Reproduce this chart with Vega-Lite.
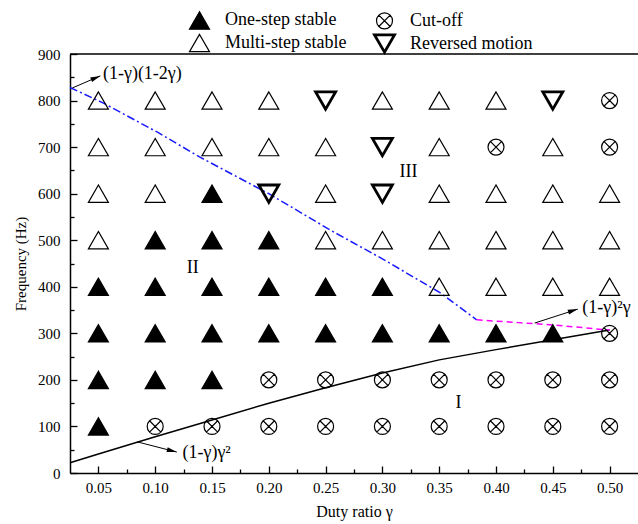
{
  "$schema": "https://vega.github.io/schema/vega-lite/v6.json",
  "width": 568,
  "height": 419,
  "autosize": {"type": "none"},
  "padding": {"left": 70, "top": 54, "right": 0, "bottom": 51},
  "background": "white",
  "config": {
    "view": {"stroke": null},
    "font": "Liberation Serif",
    "style": {"guide-label": {"font": "Liberation Serif"}, "guide-title": {"font": "Liberation Serif"}},
    "axis": {
      "domainColor": "black", "domainWidth": 1.5, "tickColor": "black", "tickWidth": 1.3,
      "labelFont": "Liberation Serif", "labelFontSize": 15, "labelColor": "black",
      "titleFont": "Liberation Serif", "titleFontSize": 16, "titleFontWeight": "normal", "titleColor": "black",
      "grid": false
    },
    "legend": {
      "title": null, "orient": "none", "legendX": 118, "legendY": -45, "columns": 2,
      "symbolSize": 400, "symbolStrokeColor": "black", "symbolStrokeWidth": 1.4,
      "labelFont": "Liberation Serif", "labelFontSize": 18, "labelColor": "black",
      "columnPadding": 21, "rowPadding": -4, "labelOffset": 14, "padding": 0
    }
  },
  "resolve": {"axis": {"x": "independent", "y": "independent"}},
  "layer": [
    {
      "data": {"values": [
        {"g": 0.025, "f": 22}, {"g": 0.05, "f": 41}, {"g": 0.1, "f": 78}, {"g": 0.15, "f": 114},
        {"g": 0.2, "f": 150}, {"g": 0.25, "f": 183}, {"g": 0.3, "f": 215}, {"g": 0.35, "f": 243},
        {"g": 0.4, "f": 265}, {"g": 0.45, "f": 286}, {"g": 0.5, "f": 307}
      ]},
      "mark": {"type": "line", "color": "black", "strokeWidth": 1.5},
      "encoding": {
        "x": {"field": "g", "type": "quantitative",
          "scale": {"domain": [0.025, 0.525], "nice": false, "zero": false},
          "axis": {
            "orient": "bottom",
            "title": "Duty ratio γ",
            "values": [0.05, 0.1, 0.15, 0.2, 0.25, 0.3, 0.35, 0.4, 0.45, 0.5],
            "format": ".2f",
            "tickSize": -7,
            "labelPadding": 14,
            "titlePadding": 8
          }
        },
        "y": {"field": "f", "type": "quantitative",
          "scale": {"domain": [0, 900], "nice": false},
          "axis": {
            "orient": "left",
            "title": "Frequency (Hz)",
            "titleFontSize": 15,
            "values": [0, 100, 200, 300, 400, 500, 600, 700, 800, 900],
            "tickSize": -7,
            "labelPadding": 17,
            "titlePadding": 9
          }
        }
      }
    },
    {
      "data": {"values": [
        {"g": 0.025, "f": 828}, {"g": 0.054, "f": 795}, {"g": 0.102, "f": 732}, {"g": 0.139, "f": 679},
        {"g": 0.2, "f": 600}, {"g": 0.254, "f": 522}, {"g": 0.3, "f": 460}, {"g": 0.351, "f": 387}, {"g": 0.383, "f": 329}
      ]},
      "mark": {"type": "line", "color": "#1a1aff", "strokeWidth": 1.5, "strokeDash": [8, 3, 2, 3]},
      "encoding": {"x": {"field": "g", "type": "quantitative", "axis": null}, "y": {"field": "f", "type": "quantitative", "axis": null}}
    },
    {
      "data": {"values": [
        {"g": 0.383, "f": 329}, {"g": 0.42, "f": 323}, {"g": 0.45, "f": 318}, {"g": 0.5, "f": 307}
      ]},
      "mark": {"type": "line", "color": "#ff00ff", "strokeWidth": 1.5, "strokeDash": [6, 4]},
      "encoding": {
        "x": {"field": "g", "type": "quantitative",
          "axis": {"orient": "bottom", "title": null, "labels": false, "domain": false, "tickSize": -4,
            "values": [0.075, 0.125, 0.175, 0.225, 0.275, 0.325, 0.375, 0.425, 0.475]}},
        "y": {"field": "f", "type": "quantitative",
          "axis": {"orient": "left", "title": null, "labels": false, "domain": false, "tickSize": -4,
            "values": [50, 150, 250, 350, 450, 550, 650, 750, 850]}}
      }
    },
    {
      "data": {"values": [{}]},
      "mark": {"type": "rule", "color": "black", "strokeWidth": 1.5},
      "encoding": {"y": {"datum": 900, "axis": null}}
    },
    {
      "data": {"values": [
        {"g": 0.05, "f": 800, "s": "Multi-step stable"}, {"g": 0.10, "f": 800, "s": "Multi-step stable"}, {"g": 0.15, "f": 800, "s": "Multi-step stable"}, {"g": 0.20, "f": 800, "s": "Multi-step stable"}, {"g": 0.25, "f": 800, "s": "Reversed motion"}, {"g": 0.30, "f": 800, "s": "Multi-step stable"}, {"g": 0.35, "f": 800, "s": "Multi-step stable"}, {"g": 0.40, "f": 800, "s": "Multi-step stable"}, {"g": 0.45, "f": 800, "s": "Reversed motion"}, {"g": 0.50, "f": 800, "s": "Cut-off"},
        {"g": 0.05, "f": 700, "s": "Multi-step stable"}, {"g": 0.10, "f": 700, "s": "Multi-step stable"}, {"g": 0.15, "f": 700, "s": "Multi-step stable"}, {"g": 0.20, "f": 700, "s": "Multi-step stable"}, {"g": 0.25, "f": 700, "s": "Multi-step stable"}, {"g": 0.30, "f": 700, "s": "Reversed motion"}, {"g": 0.35, "f": 700, "s": "Multi-step stable"}, {"g": 0.40, "f": 700, "s": "Cut-off"}, {"g": 0.45, "f": 700, "s": "Multi-step stable"}, {"g": 0.50, "f": 700, "s": "Cut-off"},
        {"g": 0.05, "f": 600, "s": "Multi-step stable"}, {"g": 0.10, "f": 600, "s": "Multi-step stable"}, {"g": 0.15, "f": 600, "s": "One-step stable"}, {"g": 0.20, "f": 600, "s": "Reversed motion"}, {"g": 0.25, "f": 600, "s": "Multi-step stable"}, {"g": 0.30, "f": 600, "s": "Reversed motion"}, {"g": 0.35, "f": 600, "s": "Multi-step stable"}, {"g": 0.40, "f": 600, "s": "Multi-step stable"}, {"g": 0.45, "f": 600, "s": "Multi-step stable"}, {"g": 0.50, "f": 600, "s": "Multi-step stable"},
        {"g": 0.05, "f": 500, "s": "Multi-step stable"}, {"g": 0.10, "f": 500, "s": "One-step stable"}, {"g": 0.15, "f": 500, "s": "One-step stable"}, {"g": 0.20, "f": 500, "s": "One-step stable"}, {"g": 0.25, "f": 500, "s": "Multi-step stable"}, {"g": 0.30, "f": 500, "s": "Multi-step stable"}, {"g": 0.35, "f": 500, "s": "Multi-step stable"}, {"g": 0.40, "f": 500, "s": "Multi-step stable"}, {"g": 0.45, "f": 500, "s": "Multi-step stable"}, {"g": 0.50, "f": 500, "s": "Multi-step stable"},
        {"g": 0.05, "f": 400, "s": "One-step stable"}, {"g": 0.10, "f": 400, "s": "One-step stable"}, {"g": 0.15, "f": 400, "s": "One-step stable"}, {"g": 0.20, "f": 400, "s": "One-step stable"}, {"g": 0.25, "f": 400, "s": "One-step stable"}, {"g": 0.30, "f": 400, "s": "One-step stable"}, {"g": 0.35, "f": 400, "s": "Multi-step stable"}, {"g": 0.40, "f": 400, "s": "Multi-step stable"}, {"g": 0.45, "f": 400, "s": "Multi-step stable"}, {"g": 0.50, "f": 400, "s": "Multi-step stable"},
        {"g": 0.05, "f": 300, "s": "One-step stable"}, {"g": 0.10, "f": 300, "s": "One-step stable"}, {"g": 0.15, "f": 300, "s": "One-step stable"}, {"g": 0.20, "f": 300, "s": "One-step stable"}, {"g": 0.25, "f": 300, "s": "One-step stable"}, {"g": 0.30, "f": 300, "s": "One-step stable"}, {"g": 0.35, "f": 300, "s": "One-step stable"}, {"g": 0.40, "f": 300, "s": "One-step stable"}, {"g": 0.45, "f": 300, "s": "One-step stable"}, {"g": 0.50, "f": 300, "s": "Cut-off"},
        {"g": 0.05, "f": 200, "s": "One-step stable"}, {"g": 0.10, "f": 200, "s": "One-step stable"}, {"g": 0.15, "f": 200, "s": "One-step stable"}, {"g": 0.20, "f": 200, "s": "Cut-off"}, {"g": 0.25, "f": 200, "s": "Cut-off"}, {"g": 0.30, "f": 200, "s": "Cut-off"}, {"g": 0.35, "f": 200, "s": "Cut-off"}, {"g": 0.40, "f": 200, "s": "Cut-off"}, {"g": 0.45, "f": 200, "s": "Cut-off"}, {"g": 0.50, "f": 200, "s": "Cut-off"},
        {"g": 0.05, "f": 100, "s": "One-step stable"}, {"g": 0.10, "f": 100, "s": "Cut-off"}, {"g": 0.15, "f": 100, "s": "Cut-off"}, {"g": 0.20, "f": 100, "s": "Cut-off"}, {"g": 0.25, "f": 100, "s": "Cut-off"}, {"g": 0.30, "f": 100, "s": "Cut-off"}, {"g": 0.35, "f": 100, "s": "Cut-off"}, {"g": 0.40, "f": 100, "s": "Cut-off"}, {"g": 0.45, "f": 100, "s": "Cut-off"}, {"g": 0.50, "f": 100, "s": "Cut-off"}
      ]},
      "mark": {"type": "point", "opacity": 1, "size": 400},
      "encoding": {
        "x": {"field": "g", "type": "quantitative", "axis": null},
        "y": {"field": "f", "type": "quantitative", "axis": null},
        "shape": {"field": "s", "type": "nominal",
          "scale": {"domain": ["One-step stable", "Multi-step stable", "Cut-off", "Reversed motion"],
            "range": ["triangle-up", "triangle-up", "M0.8,0A0.8,0.8 0 1,1 -0.8,0A0.8,0.8 0 1,1 0.8,0Z M-0.57,-0.57L0.57,0.57M-0.57,0.57L0.57,-0.57", "triangle-down"]},
          "legend": {"labelFont": "Liberation Serif", "encode": {"labels": {"update": {"font": {"value": "Liberation Serif"}}}}}
        },
        "fill": {"field": "s", "type": "nominal",
          "scale": {"domain": ["One-step stable", "Multi-step stable", "Cut-off", "Reversed motion"],
            "range": ["black", "transparent", "transparent", "transparent"]},
          "legend": {"labelFont": "Liberation Serif", "encode": {"labels": {"update": {"font": {"value": "Liberation Serif"}}}}}
        },
        "stroke": {"field": "s", "type": "nominal",
          "scale": {"domain": ["One-step stable", "Multi-step stable", "Cut-off", "Reversed motion"],
            "range": ["black", "black", "black", "black"]},
          "legend": {"labelFont": "Liberation Serif", "encode": {"labels": {"update": {"font": {"value": "Liberation Serif"}}}}}
        },
        "strokeWidth": {"field": "s", "type": "nominal",
          "scale": {"type": "ordinal", "domain": ["One-step stable", "Multi-step stable", "Cut-off", "Reversed motion"],
            "range": [1.2, 1.2, 1.2, 2.8]},
          "legend": {"labelFont": "Liberation Serif", "encode": {"labels": {"update": {"font": {"value": "Liberation Serif"}}}}}
        }
      }
    },
    {
      "data": {"values": [
        {"g": 0.027, "f": 827, "g2": 0.0517, "f2": 853},
        {"g": 0.084, "f": 67, "g2": 0.119, "f2": 45},
        {"g": 0.434, "f": 322, "g2": 0.472, "f2": 352}
      ]},
      "mark": {"type": "rule", "color": "black", "strokeWidth": 1},
      "encoding": {
        "x": {"field": "g", "type": "quantitative", "axis": null}, "y": {"field": "f", "type": "quantitative", "axis": null},
        "x2": {"field": "g2"}, "y2": {"field": "f2"}
      }
    },
    {
      "data": {"values": [{"g": 0.0517, "f": 853}]},
      "mark": {"type": "point", "shape": "M0,0L-2,-0.5L-2,0.5Z", "size": 100, "filled": true, "color": "black", "opacity": 1, "angle": -23},
      "encoding": {"x": {"field": "g", "type": "quantitative", "axis": null}, "y": {"field": "f", "type": "quantitative", "axis": null}}
    },
    {
      "data": {"values": [{"g": 0.119, "f": 45}]},
      "mark": {"type": "point", "shape": "M0,0L-2,-0.5L-2,0.5Z", "size": 100, "filled": true, "color": "black", "opacity": 1, "angle": 14},
      "encoding": {"x": {"field": "g", "type": "quantitative", "axis": null}, "y": {"field": "f", "type": "quantitative", "axis": null}}
    },
    {
      "data": {"values": [{"g": 0.472, "f": 352}]},
      "mark": {"type": "point", "shape": "M0,0L-2,-0.5L-2,0.5Z", "size": 100, "filled": true, "color": "black", "opacity": 1, "angle": -18},
      "encoding": {"x": {"field": "g", "type": "quantitative", "axis": null}, "y": {"field": "f", "type": "quantitative", "axis": null}}
    },
    {
      "data": {"values": [
        {"g": 0.054, "f": 857, "t": "(1-γ)(1-2γ)"},
        {"g": 0.124, "f": 43, "t": "(1-γ)γ²"},
        {"g": 0.476, "f": 354, "t": "(1-γ)²γ"}
      ]},
      "mark": {"type": "text", "font": "Liberation Serif", "fontSize": 18, "align": "left", "baseline": "middle", "color": "black"},
      "encoding": {"x": {"field": "g", "type": "quantitative", "axis": null}, "y": {"field": "f", "type": "quantitative", "axis": null}, "text": {"field": "t"}}
    },
    {
      "data": {"values": [
        {"g": 0.367, "f": 150, "t": "I"},
        {"g": 0.133, "f": 440, "t": "II"},
        {"g": 0.323, "f": 646, "t": "III"}
      ]},
      "mark": {"type": "text", "font": "Liberation Serif", "fontSize": 18, "align": "center", "baseline": "middle", "color": "black"},
      "encoding": {"x": {"field": "g", "type": "quantitative", "axis": null}, "y": {"field": "f", "type": "quantitative", "axis": null}, "text": {"field": "t"}}
    }
  ]
}
